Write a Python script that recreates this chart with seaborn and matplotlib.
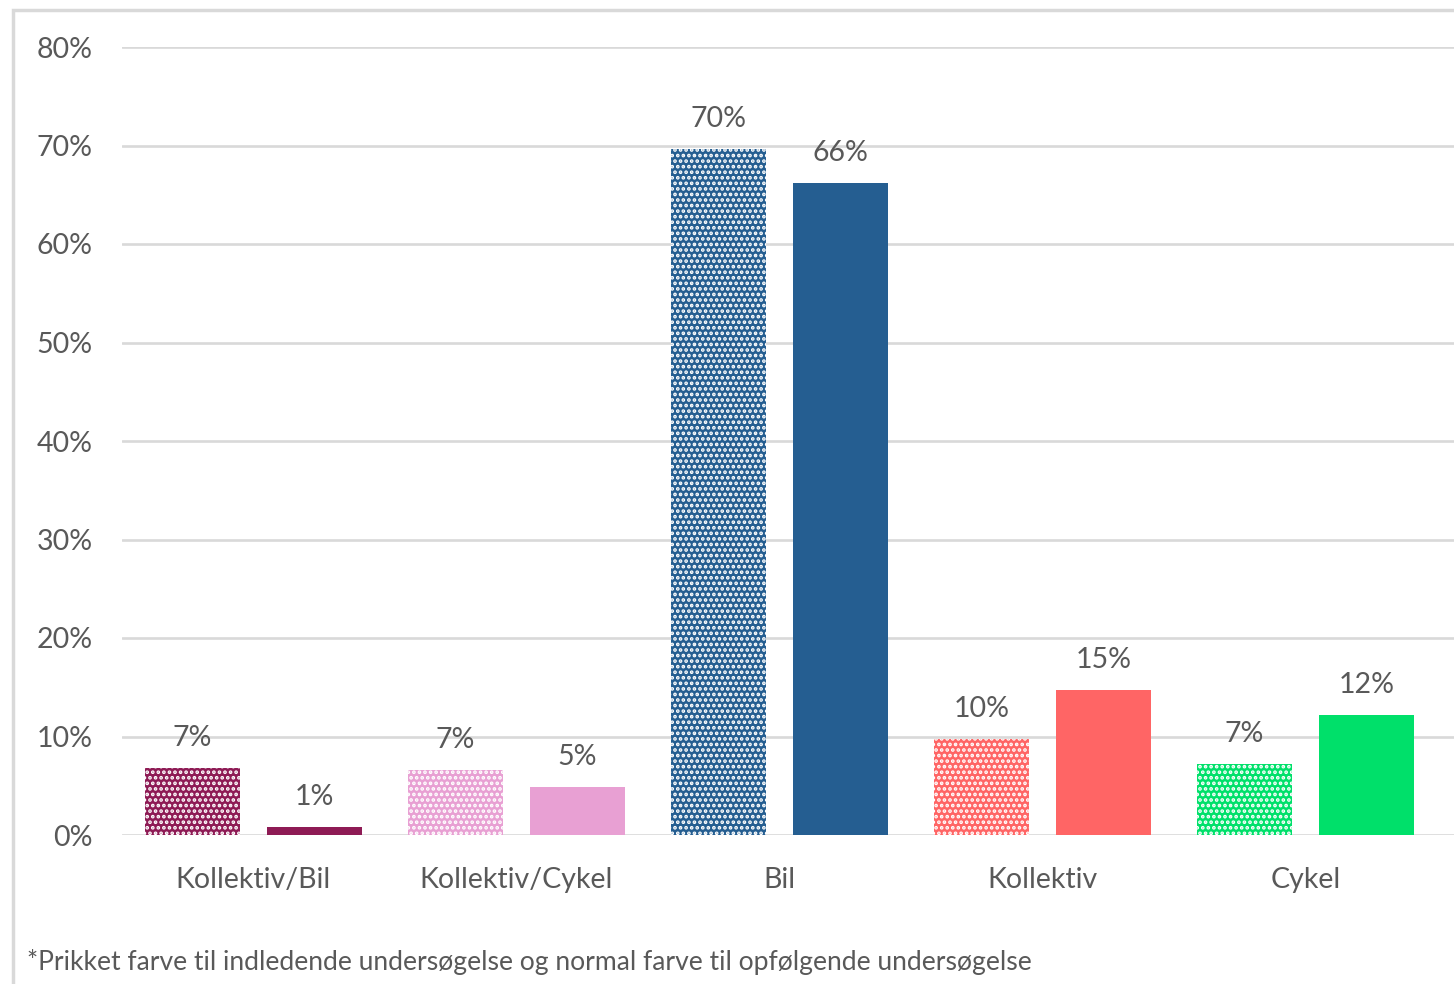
import matplotlib.pyplot as plt
import matplotlib.patches as mpatches
import pandas as pd
import seaborn as sns

categories = ["Kollektiv/Bil", "Kollektiv/Cykel", "Bil", "Kollektiv", "Cykel"]
initial = [6.8, 6.6, 69.6, 9.7, 7.2]      # prikket farve
followup = [0.8, 4.9, 66.2, 14.7, 12.2]   # normal farve
colors = ["#8E1B55", "#E8A0D3", "#255E91", "#FF6565", "#00E06A"]
y_ticks = [0, 10, 20, 30, 40, 50, 60, 70, 80]
note = "*Prikket farve til indledende undersøgelse og normal farve til opfølgende undersøgelse"

df = pd.DataFrame({
    "kategori": categories * 2,
    "andel": initial + followup,
    "survey": ["Indledende"] * 5 + ["Opfølgende"] * 5,
})

sns.set_style("white")
plt.rcParams["font.family"] = ["Lato", "DejaVu Sans"]
plt.rcParams["hatch.linewidth"] = 1.8
txt = "#595959"
grid = "#D9D9D9"
fs = 20.5

fig = plt.figure(figsize=(14.54, 9.84), dpi=100)
ax = fig.add_axes([122 / 1454, 149 / 984, 1332 / 1454, 788 / 984])

sns.barplot(data=df, x="kategori", y="andel", hue="survey", order=categories,
            width=0.925, gap=0.22, legend=False, ax=ax, zorder=3)

# recolour: dotted for first survey, solid for follow-up
for ci, cont in enumerate(ax.containers):
    for bar, col in zip(cont, colors):
        bar.set_facecolor(col)
        if ci == 0:
            bar.set_hatch("...")
            bar.set_edgecolor("white")
            bar.set_linewidth(0)
        else:
            bar.set_edgecolor(col)
            bar.set_linewidth(0)
    vals = initial if ci == 0 else followup
    for bar, v in zip(cont, vals):
        ax.annotate(f"{v:.0f}%", (bar.get_x() + bar.get_width() / 2, bar.get_height()),
                    xytext=(0, 16), textcoords="offset points", ha="center",
                    va="baseline", fontsize=fs, color=txt)

ax.set_ylim(0, 80)
ax.set_xlim(-0.5, 4.565)
ax.set_yticks(y_ticks)
ax.set_yticklabels([f"{t}%" for t in y_ticks])
ax.yaxis.grid(True, color=grid, linewidth=1.9, zorder=0)
ax.tick_params(axis="both", length=0, labelsize=fs, labelcolor=txt)
ax.tick_params(axis="y", pad=21)
ax.tick_params(axis="x", pad=23)
ax.set_xlabel("")
ax.set_ylabel("")
for s in ax.spines.values():
    s.set_visible(False)

# outer frame (left and top edges visible)
frame = mpatches.Rectangle((13 / 1454, -0.1), 1.2, 1.1 - 10 / 984, transform=fig.transFigure,
                           fill=False, edgecolor=grid, linewidth=2.5, clip_on=False)
fig.patches.append(frame)

fig.text(27 / 1454, 1 - 962 / 984, note, fontsize=19.1, color=txt, va="center", ha="left")

fig.savefig("out.png", dpi=100)
